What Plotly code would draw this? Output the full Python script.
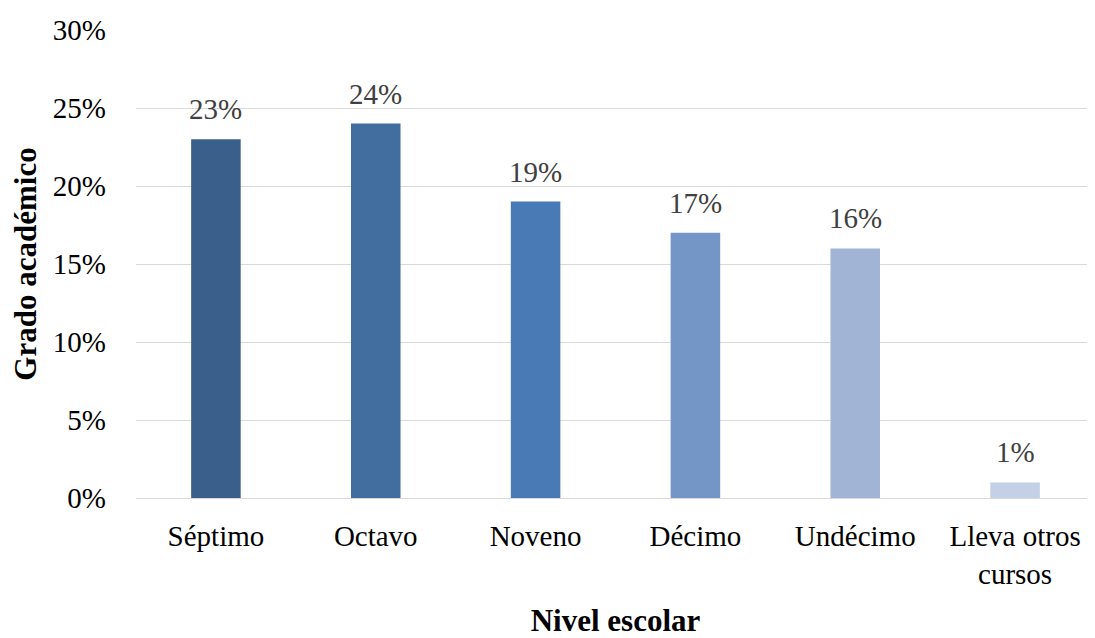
import plotly.graph_objects as go

# --- Chart data ---
categories = ["Séptimo", "Octavo", "Noveno", "Décimo", "Undécimo", "Lleva otros<br>cursos"]
values = [0.23, 0.24, 0.19, 0.17, 0.16, 0.01]
bar_colors = ["#3A5F8A", "#416E9F", "#4A7AB5", "#7496C7", "#A2B4D5", "#C4D0E6"]
y_ticks = [0, 0.05, 0.10, 0.15, 0.20, 0.25, 0.30]

FONT = "Liberation Serif, Times New Roman, serif"

fig = go.Figure()

fig.add_trace(go.Bar(
    x=categories,
    y=values,
    marker=dict(color=bar_colors, line=dict(width=0)),
    hoverinfo="skip",
))

# data labels, lifted a bit above each bar
for cat, v in zip(categories, values):
    fig.add_annotation(
        x=cat, y=v, text=f"{v:.0%}",
        showarrow=False, yanchor="bottom", yshift=12,
        font=dict(family=FONT, size=29, color="#404040"),
    )

# page body has an 8px margin, so shrink the figure to fit the window
fig.update_layout(
    width=1087,
    height=630,
    margin=dict(l=128, r=0, t=22, b=140),
    plot_bgcolor="white",
    paper_bgcolor="white",
    font=dict(family=FONT, size=29, color="black"),
    bargap=0.69,
    showlegend=False,
    xaxis=dict(
        title=dict(text="<b>Nivel escolar</b>", font=dict(size=31), standoff=28),
        showgrid=False,
        showline=False,
        ticks="",
        ticklabelstandoff=18,
        tickfont=dict(size=29),
    ),
    yaxis=dict(
        title=dict(text="<b>Grado académico</b>", font=dict(size=31), standoff=12),
        range=[0, 0.30],
        tickvals=y_ticks,
        tickformat=".0%",
        showgrid=True,
        gridcolor="#D9D9D9",
        gridwidth=1,
        zeroline=True,
        zerolinecolor="#D9D9D9",
        zerolinewidth=1,
        showline=False,
        ticks="",
        ticklabelstandoff=29,
        tickfont=dict(size=29),
    ),
)

fig.write_html("out.html")
